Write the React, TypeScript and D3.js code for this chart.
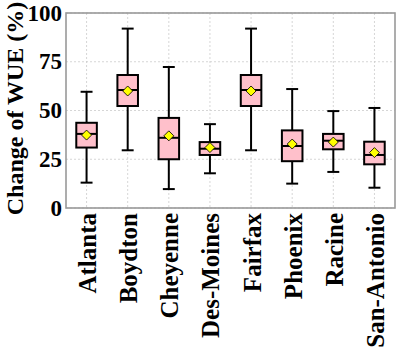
import * as d3 from "d3";

// site names and box statistics (% change of WUE)
const sites = ["Atlanta", "Boydton", "Cheyenne", "Des-Moines", "Fairfax", "Phoenix", "Racine", "San-Antonio"];
const whiskerLow = [13, 29.6, 9.7, 17.8, 29.6, 12.5, 18.5, 10.4];
const q1 = [31, 52.3, 25, 27.2, 52.3, 24, 30.1, 22.4];
const median = [38, 60.5, 36, 30.4, 60.5, 31.8, 34.5, 27.2];
const q3 = [43.7, 68.2, 46.2, 33.8, 68.2, 39.8, 38, 34];
const whiskerHigh = [59.6, 92, 72.3, 43, 92, 61, 49.7, 51.3];
const means = [37.4, 60, 37, 31, 60, 32.8, 33.8, 28.4];
const yTicks = [0, 25, 50, 75, 100];

const W = 399;
const H = 354;
const left = 66;
const right = 395;
const top = 13;
const bottom = 208;
const font = "'Liberation Serif', 'Times New Roman', serif";

export default function App() {
  const x = d3.scaleBand<string>().domain(sites).range([left, right]);
  const y = d3.scaleLinear().domain([0, 100]).range([bottom, top]);
  const bw = x.bandwidth();
  const boxW = bw * 0.5;
  const capW = bw * 0.29;
  const diamond = d3.symbol().type(d3.symbolSquare).size(50)();

  return (
    <svg width={W} height={H} style={{ position: "absolute", left: 0, top: 0 }}>
      <rect x={0} y={0} width={W} height={H} fill="#fff" />
      {/* grid */}
      <g stroke="#cccccc" strokeWidth={0.8} strokeDasharray="2,2">
        {yTicks.map((t) => (
          <line key={"h" + t} x1={left} x2={right} y1={y(t)} y2={y(t)} />
        ))}
        {sites.map((s) => (
          <line key={"v" + s} x1={x(s)! + bw / 2} x2={x(s)! + bw / 2} y1={top} y2={bottom} />
        ))}
      </g>
      {/* boxes */}
      {sites.map((s, i) => {
        const cx = x(s)! + bw / 2;
        return (
          <g key={s} stroke="#000" strokeWidth={2}>
            <line x1={cx} x2={cx} y1={y(whiskerHigh[i])} y2={y(q3[i])} />
            <line x1={cx} x2={cx} y1={y(q1[i])} y2={y(whiskerLow[i])} />
            <line x1={cx - capW / 2} x2={cx + capW / 2} y1={y(whiskerHigh[i])} y2={y(whiskerHigh[i])} />
            <line x1={cx - capW / 2} x2={cx + capW / 2} y1={y(whiskerLow[i])} y2={y(whiskerLow[i])} />
            <rect x={cx - boxW / 2} y={y(q3[i])} width={boxW} height={y(q1[i]) - y(q3[i])} fill="#ffc0cb" />
            <line x1={cx - boxW / 2} x2={cx + boxW / 2} y1={y(median[i])} y2={y(median[i])} />
            <path
              d={diamond!}
              transform={`translate(${cx},${y(means[i])}) rotate(45)`}
              fill="#ffff00"
              stroke="#000"
              strokeWidth={0.8}
            />
          </g>
        );
      })}
      {/* frame */}
      <rect x={left} y={top} width={right - left} height={bottom - top} fill="none" stroke="#999" strokeWidth={1.6} />
      {/* y ticks */}
      {yTicks.map((t) => (
        <text
          key={"yt" + t}
          x={left - 4}
          y={y(t)}
          textAnchor="end"
          dominantBaseline="central"
          fontFamily={font}
          fontWeight="bold"
          fontSize={23}
        >
          {t}
        </text>
      ))}
      {/* x ticks */}
      {sites.map((s) => (
        <text
          key={"xt" + s}
          transform={`translate(${x(s)! + bw / 2 + 1},${bottom + 5}) rotate(-90)`}
          textAnchor="end"
          dominantBaseline="central"
          fontFamily={font}
          fontWeight="bold"
          fontSize={25}
        >
          {s}
        </text>
      ))}
      <text
        transform={`translate(23,${(top + bottom) / 2 - 2}) rotate(-90)`}
        textAnchor="middle"
        fontFamily={font}
        fontWeight="bold"
        fontSize={24}
      >
        Change of WUE (%)
      </text>
    </svg>
  );
}
